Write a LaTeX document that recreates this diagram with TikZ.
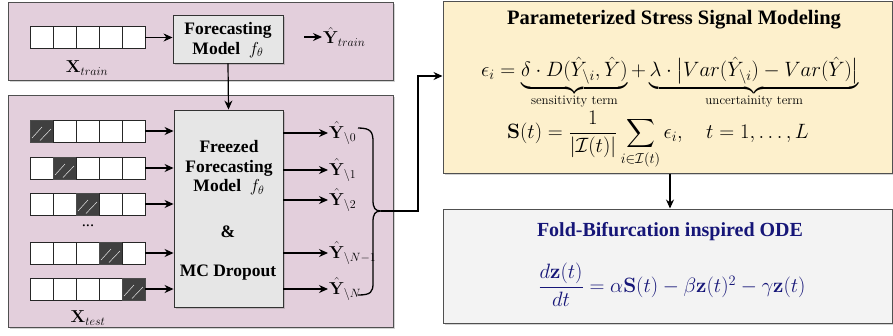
\documentclass[tikz,border=0pt]{standalone}
\usepackage{amsmath,amssymb}
\usepackage[no-math]{fontspec}
\setmainfont{Liberation Serif}
\usetikzlibrary{shadows,arrows.meta,calc}
\definecolor{panelpink}{RGB}{227,207,220}
\definecolor{boxgray}{RGB}{230,230,230}
\definecolor{yellowbg}{RGB}{253,240,204}
\definecolor{lightgray}{RGB}{243,243,243}
\definecolor{hatchdark}{RGB}{64,64,64}
\definecolor{navytext}{RGB}{22,22,120}
\definecolor{edgegray}{RGB}{80,80,80}
\newcommand{\braceLabel}[1]{\text{\fontfamily{lmr}\fontsize{13}{15}\selectfont #1}}
\tikzset{
  panel/.style={draw=edgegray, line width=0.9pt, fill=panelpink, drop shadow={opacity=0.35, shadow xshift=1.5pt, shadow yshift=-1.5pt}},
  modelbox/.style={draw=black!80, line width=0.9pt, fill=boxgray, drop shadow={opacity=0.35, shadow xshift=1.5pt, shadow yshift=-1.5pt}},
  bigbox/.style={draw=edgegray, line width=1pt, drop shadow={opacity=0.35, shadow xshift=1.5pt, shadow yshift=-1.5pt}},
  cell/.style={draw=black!85, line width=0.9pt, fill=white, minimum width=23pt, minimum height=22pt, inner sep=0pt, outer sep=0pt},
  hcell/.style={cell, fill=hatchdark, draw=black!70},
  conn/.style={line width=1.2pt, -{Stealth[length=9pt,width=8pt]}},
  boldtxt/.style={font=\fontsize{17.5}{19.5}\selectfont\bfseries, align=center},
  lbl/.style={font=\fontsize{16.5}{18}\selectfont, inner sep=0pt}
}
\begin{document}
\begin{tikzpicture}[x=1pt,y=-1pt]
\useasboundingbox (0,0) rectangle (893,335);
% panels
\path[panel] (8,2) rectangle (393,80);
\path[panel] (8,95) rectangle (393,327);
% top sequence
\foreach \k in {0,...,4}{
  \node[cell] (tc\k) at ({41.5+23*\k},37.5) {};
}
\node[lbl] (xtrain) at (87,68) {$\mathbf{X}_{train}$};
\node[modelbox, minimum width=110pt, minimum height=48pt, inner sep=0pt] (fm) at (228,39) {};
\node[boldtxt] (fmtxt) at (228,40) {Forecasting\\Model~ {\normalfont$f_\theta$}};
\draw[conn] (tc4.east) -- (fm.west |- tc4.east);
\coordinate (ytrs) at (304,37);
\node[lbl, anchor=west, inner sep=1pt] (ytrain) at (322,37) {$\hat{\mathbf{Y}}_{train}$};
\draw[conn] (ytrs) -- (ytrain.west);
% freezed box
\node[modelbox, minimum width=109pt, minimum height=197pt, inner sep=0pt] (ffm) at (228.5,208.5) {};
\node[boldtxt] (ftxt1) at (229,168) {Freezed\\Forecasting\\Model~ {\normalfont$f_\theta$}};
\node[boldtxt] (famp) at (228,232) {\&};
\node[boldtxt] (fmc) at (228,273) {MC Dropout};
\draw[conn] (fm.south) -- (ffm.north);
% test sequences
\foreach \r/\y/\h in {1/131/0, 2/168/1, 3/204/2, 4/253/3, 5/289/4}{
  \foreach \k in {0,...,4}{
    \ifnum\k=\h
      \node[hcell] (sc\r\k) at ({41.5+23*\k},\y) {};
      \draw[white!80!gray, line width=0.5pt] ($(sc\r\k.south west)+(2,-4)$) -- ($(sc\r\k.south west)+(12,-15)$);
      \draw[white!80!gray, line width=0.5pt] ($(sc\r\k.south west)+(10,-1.5)$) -- ($(sc\r\k.south west)+(21,-13)$);
    \else
      \node[cell] (sc\r\k) at ({41.5+23*\k},\y) {};
    \fi
  }
  \draw[conn] (sc\r4.east) -- (ffm.west |- sc\r4.east);
}
\node[lbl] (dots) at (88,226) {...};
\node[lbl] (xtest) at (88,318) {$\mathbf{X}_{test}$};
% outputs
\foreach \n/\y/\s in {0/133/0, 1/170/1, 2/200/2, 3/253/N-1, 4/289/N}{
  \coordinate (os\n) at (283,\y);
  \node[lbl, anchor=west, inner sep=1pt] (out\n) at (328,\y) {$\hat{\mathbf{Y}}_{\backslash \s}$};
  \draw[conn] (os\n) -- (out\n.west);
}
% brace
\coordinate (btip) at (381,211);
\draw[line width=1.3pt] (358,128) .. controls (371,128) and (373,132) .. (373,142) -- (373,200) .. controls (373,208) and (375,211) .. (btip) .. controls (375,211) and (373,214) .. (373,222) -- (373,283) .. controls (373,292) and (371,295) .. (358,295);
% stress signal box
\node[bigbox, fill=yellowbg, minimum width=449pt, minimum height=172pt, inner sep=0pt] (psm) at (667.5,87) {};
\coordinate (bend) at (418,76);
\draw[conn] (btip) -| (bend) -- (psm.west |- bend);
\node[font=\fontsize{20.5}{24}\selectfont\bfseries] (psmtitle) at (674,20) {Parameterized Stress Signal Modeling};
\node[font=\fontsize{20.5}{24}\selectfont] (eq1) at (670,83) {$\epsilon_i = \underbrace{\delta\cdot D(\hat{Y}_{\backslash i},\hat{Y})}_{\braceLabel{sensitivity term}} + \underbrace{\lambda\cdot\bigl|Var(\hat{Y}_{\backslash i}) - Var(\hat{Y})\bigr|}_{\braceLabel{uncertainity term}}$};
\node[font=\fontsize{20}{24}\selectfont] (eq2) at (658,140) {$\mathbf{S}(t) = \dfrac{1}{|\mathcal{I}(t)|}\displaystyle\sum_{i\in\mathcal{I}(t)}\epsilon_i,\quad t=1,\ldots,L$};
% ODE box
\node[bigbox, fill=lightgray, minimum width=449pt, minimum height=114pt, inner sep=0pt] (ode) at (667.5,266) {};
\draw[conn] (psm.south -| 670,0) -- (ode.north -| 670,0);
\node[font=\fontsize{20}{24}\selectfont\bfseries, text=navytext] (odetitle) at (670,232) {Fold-Bifurcation inspired ODE};
\node[font=\fontsize{20}{24}\selectfont, text=navytext] (odeeq) at (672,285) {$\dfrac{d\mathbf{z}(t)}{dt} = \alpha\mathbf{S}(t) - \beta\mathbf{z}(t)^2 - \gamma\mathbf{z}(t)$};
\end{tikzpicture}
\end{document}
